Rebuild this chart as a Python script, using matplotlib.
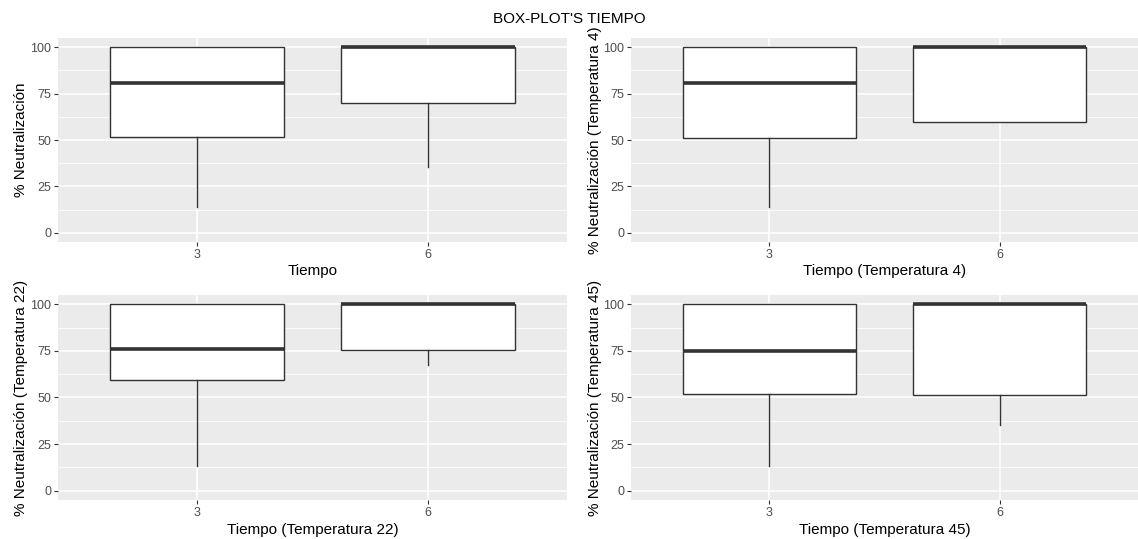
import matplotlib
matplotlib.use("Agg")
import matplotlib.pyplot as plt

plt.rcParams['font.family'] = ['Liberation Sans', 'DejaVu Sans']

# categories (Tiempo)
tiempos = ["3", "6"]

# box stats per panel: one value per tiempo
# sin separar por temperatura
med_all = [81.0, 100.0]
q1_all = [51.8, 69.7]
q3_all = [100.0, 100.0]
lo_all = [14.0, 35.7]
hi_all = [100.0, 100.0]

# temperatura 4
med_t4 = [81.0, 100.0]
q1_t4 = [50.9, 59.9]
q3_t4 = [100.0, 100.0]
lo_t4 = [14.0, 59.9]
hi_t4 = [100.0, 100.0]

# temperatura 22
med_t22 = [76.1, 100.0]
q1_t22 = [59.2, 75.6]
q3_t22 = [100.0, 100.0]
lo_t22 = [13.5, 67.7]
hi_t22 = [100.0, 100.0]

# temperatura 45
med_t45 = [75.2, 100.0]
q1_t45 = [51.7, 51.2]
q3_t45 = [100.0, 100.0]
lo_t45 = [13.5, 35.0]
hi_t45 = [100.0, 100.0]

yticks = [0, 25, 50, 75, 100]

W, H = 1138, 539
fig = plt.figure(figsize=(W / 100, H / 100), dpi=100)


def px_axes(left, top, right, bottom):
    return fig.add_axes([left / W, 1 - bottom / H, (right - left) / W, (bottom - top) / H])


def draw_panel(ax, med, q1, q3, lo, hi, xlabel, ylabel):
    stats = []
    for i in range(len(tiempos)):
        stats.append({"med": med[i], "q1": q1[i], "q3": q3[i],
                      "whislo": lo[i], "whishi": hi[i], "label": tiempos[i]})
    ax.set_facecolor("#EBEBEB")
    ax.set_axisbelow(True)
    ax.bxp(stats, positions=[1, 2], widths=0.75, showfliers=False, showcaps=False,
           patch_artist=True,
           boxprops=dict(facecolor="white", edgecolor="#333333", linewidth=1.0),
           medianprops=dict(color="#333333", linewidth=2.6, solid_capstyle="butt"),
           whiskerprops=dict(color="#333333", linewidth=1.0))
    ax.set_xlim(0.4, 2.6)
    ax.set_ylim(-5, 105)
    ax.set_xticks([1, 2])
    ax.set_xticklabels(tiempos)
    ax.set_yticks(yticks)
    ax.set_yticks([12.5, 37.5, 62.5, 87.5], minor=True)
    ax.grid(which="major", color="white", linewidth=1.1)
    ax.grid(which="minor", axis="y", color="white", linewidth=0.55)
    for s in ax.spines.values():
        s.set_visible(False)
    ax.tick_params(which="major", length=3, width=0.8, color="#333333",
                   labelcolor="#4D4D4D", labelsize=9, pad=2)
    ax.tick_params(which="minor", length=0)
    ax.set_xlabel(xlabel, fontsize=11, color="black")
    ax.set_ylabel(ylabel, fontsize=11, color="black")
    ax.xaxis.set_label_coords(0.5, -0.11)
    ax.yaxis.set_label_coords(-0.058, 0.5)


ax1 = px_axes(58, 38, 567, 242)
draw_panel(ax1, med_all, q1_all, q3_all, lo_all, hi_all,
           "Tiempo", "% Neutralización")

ax2 = px_axes(631, 38, 1138, 242)
draw_panel(ax2, med_t4, q1_t4, q3_t4, lo_t4, hi_t4,
           "Tiempo (Temperatura 4)", "% Neutralización (Temperatura 4)")

ax3 = px_axes(58, 295, 567, 500)
draw_panel(ax3, med_t22, q1_t22, q3_t22, lo_t22, hi_t22,
           "Tiempo (Temperatura 22)", "% Neutralización (Temperatura 22)")

ax4 = px_axes(631, 295, 1138, 500)
draw_panel(ax4, med_t45, q1_t45, q3_t45, lo_t45, hi_t45,
           "Tiempo (Temperatura 45)", "% Neutralización (Temperatura 45)")

fig.text(0.5, 1 - 19 / H, "BOX-PLOT'S TIEMPO", ha="center", va="center", fontsize=11)

fig.savefig("out.png", dpi=100)
